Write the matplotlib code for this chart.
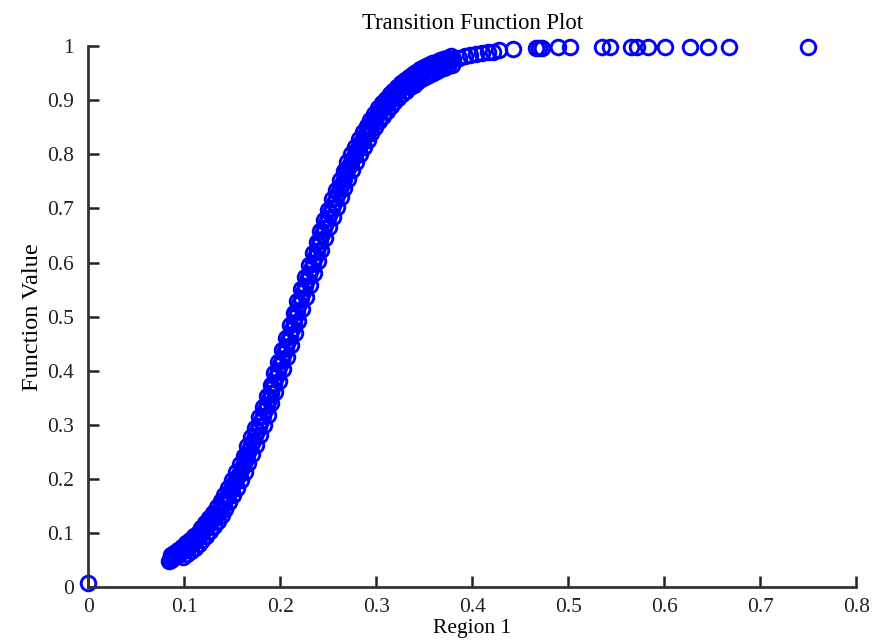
import numpy as np
import matplotlib
matplotlib.use('Agg')
import matplotlib.pyplot as plt

plt.rcParams['font.family'] = ['Liberation Serif', 'DejaVu Serif']

# centre line of the point cloud (region value, function value), plus the tail
region = [0.0,
          0.084, 0.088, 0.092, 0.096, 0.100, 0.104, 0.108, 0.112, 0.116, 0.120,
          0.124, 0.128, 0.132, 0.136, 0.140, 0.144, 0.148, 0.152, 0.156, 0.160,
          0.164, 0.168, 0.172, 0.176, 0.180, 0.184, 0.188, 0.192, 0.196, 0.200,
          0.204, 0.208, 0.212, 0.216, 0.220, 0.224, 0.228, 0.232, 0.236, 0.240,
          0.244, 0.248, 0.252, 0.256, 0.260, 0.264, 0.268, 0.272, 0.276, 0.280,
          0.284, 0.288, 0.292, 0.296, 0.300, 0.304, 0.308, 0.312, 0.316, 0.320,
          0.324, 0.328, 0.332, 0.336, 0.340, 0.344, 0.348, 0.352, 0.356, 0.360,
          0.364, 0.368, 0.372, 0.376, 0.380, 0.386, 0.392, 0.398, 0.404, 0.410,
          0.416, 0.422, 0.428, 0.443, 0.466, 0.470, 0.473, 0.489, 0.502,
          0.535, 0.544, 0.565, 0.572, 0.583, 0.601, 0.627, 0.646, 0.667, 0.750]
value = [0.008,
         0.049, 0.053, 0.058, 0.063, 0.069, 0.075, 0.081, 0.088, 0.095, 0.103,
         0.112, 0.121, 0.131, 0.142, 0.153, 0.165, 0.178, 0.192, 0.206, 0.221,
         0.237, 0.254, 0.271, 0.289, 0.308, 0.327, 0.348, 0.368, 0.389, 0.411,
         0.433, 0.455, 0.478, 0.500, 0.523, 0.545, 0.567, 0.589, 0.611, 0.632,
         0.653, 0.673, 0.692, 0.711, 0.729, 0.746, 0.763, 0.779, 0.794, 0.808,
         0.822, 0.835, 0.847, 0.858, 0.869, 0.879, 0.888, 0.897, 0.905, 0.912,
         0.919, 0.926, 0.932, 0.937, 0.942, 0.947, 0.951, 0.955, 0.959, 0.962,
         0.965, 0.968, 0.971, 0.973, 0.976, 0.979, 0.981, 0.984, 0.986, 0.988,
         0.989, 0.990, 0.992, 0.994, 0.997, 0.997, 0.997, 0.998, 0.998,
         0.999, 0.999, 0.999, 0.999, 0.999, 0.999, 0.999, 0.999, 0.999, 0.999]

# more points on the centre line, between the ones above
region_mid = [0.086, 0.090, 0.094, 0.098, 0.102, 0.106, 0.110, 0.114, 0.118, 0.122,
              0.126, 0.130, 0.134, 0.138, 0.142, 0.146, 0.150, 0.154, 0.158, 0.162,
              0.166, 0.170, 0.174, 0.178, 0.182, 0.186, 0.190, 0.194, 0.198, 0.202,
              0.206, 0.210, 0.214, 0.218, 0.222, 0.226, 0.230, 0.234, 0.238, 0.242,
              0.246, 0.250, 0.254, 0.258, 0.262, 0.266, 0.270, 0.274, 0.278, 0.282,
              0.286, 0.290, 0.294, 0.298, 0.302, 0.306, 0.310, 0.314, 0.318, 0.322,
              0.326, 0.330, 0.334, 0.338, 0.342, 0.346, 0.350, 0.354, 0.358, 0.362,
              0.366, 0.370, 0.374, 0.378]
value_mid = [0.051, 0.056, 0.060, 0.066, 0.072, 0.078, 0.085, 0.092, 0.099, 0.107,
             0.116, 0.126, 0.136, 0.147, 0.159, 0.171, 0.185, 0.199, 0.213, 0.229,
             0.245, 0.262, 0.280, 0.298, 0.317, 0.337, 0.358, 0.378, 0.400, 0.422,
             0.444, 0.466, 0.489, 0.511, 0.534, 0.556, 0.578, 0.600, 0.621, 0.642,
             0.663, 0.682, 0.701, 0.720, 0.737, 0.754, 0.771, 0.786, 0.801, 0.815,
             0.828, 0.841, 0.852, 0.863, 0.874, 0.883, 0.892, 0.901, 0.908, 0.915,
             0.922, 0.929, 0.934, 0.939, 0.944, 0.949, 0.953, 0.957, 0.960, 0.963,
             0.966, 0.969, 0.972, 0.974]

# points on the lower/right edge of the band
region_lo = [0.099, 0.103, 0.107, 0.111, 0.115, 0.119, 0.123, 0.127, 0.131, 0.135,
             0.139, 0.143, 0.147, 0.151, 0.155, 0.159, 0.163, 0.167, 0.171, 0.175,
             0.179, 0.183, 0.187, 0.191, 0.195, 0.199, 0.203, 0.207, 0.211, 0.215,
             0.219, 0.223, 0.227, 0.231, 0.235, 0.239, 0.243, 0.247, 0.251, 0.255,
             0.259, 0.263, 0.267, 0.271, 0.275, 0.279, 0.283, 0.287, 0.291, 0.295,
             0.299, 0.303, 0.307, 0.311, 0.315, 0.319, 0.323, 0.327, 0.331, 0.335,
             0.339, 0.343, 0.347, 0.351, 0.355, 0.359, 0.363, 0.367, 0.371, 0.375,
             0.379]
value_lo = [0.055, 0.061, 0.067, 0.073, 0.080, 0.087, 0.095, 0.104, 0.113, 0.123,
            0.134, 0.145, 0.157, 0.170, 0.184, 0.198, 0.213, 0.229, 0.246, 0.263,
            0.281, 0.300, 0.319, 0.340, 0.360, 0.381, 0.403, 0.425, 0.447, 0.470,
            0.492, 0.515, 0.537, 0.559, 0.581, 0.603, 0.624, 0.645, 0.665, 0.684,
            0.703, 0.721, 0.738, 0.755, 0.771, 0.786, 0.800, 0.814, 0.827, 0.839,
            0.850, 0.861, 0.871, 0.880, 0.889, 0.897, 0.904, 0.911, 0.918, 0.924,
            0.929, 0.934, 0.939, 0.943, 0.947, 0.951, 0.954, 0.957, 0.960, 0.963,
            0.965]

# points on the upper/left edge of the band
region_hi = [0.086, 0.090, 0.094, 0.098, 0.102, 0.106, 0.110, 0.114, 0.118, 0.122,
             0.126, 0.130, 0.134, 0.138, 0.142, 0.146, 0.150, 0.154, 0.158, 0.162,
             0.166, 0.170, 0.174, 0.178, 0.182, 0.186, 0.190, 0.194, 0.198, 0.202,
             0.206, 0.210, 0.214, 0.218, 0.222, 0.226, 0.230, 0.234, 0.238, 0.242,
             0.246, 0.250, 0.254, 0.258, 0.262, 0.266, 0.270, 0.274, 0.278, 0.282,
             0.286, 0.290, 0.294, 0.298, 0.302, 0.306, 0.310, 0.314, 0.318, 0.322,
             0.326, 0.330, 0.334, 0.338, 0.342, 0.346, 0.350, 0.354, 0.358, 0.362,
             0.366, 0.370, 0.374, 0.378]
value_hi = [0.059, 0.064, 0.069, 0.075, 0.081, 0.087, 0.094, 0.101, 0.109, 0.118,
            0.127, 0.137, 0.148, 0.159, 0.171, 0.184, 0.198, 0.212, 0.227, 0.243,
            0.260, 0.277, 0.295, 0.314, 0.333, 0.354, 0.374, 0.395, 0.417, 0.439,
            0.461, 0.484, 0.506, 0.529, 0.551, 0.573, 0.595, 0.617, 0.638, 0.659,
            0.679, 0.698, 0.717, 0.735, 0.752, 0.769, 0.785, 0.800, 0.814, 0.828,
            0.841, 0.853, 0.864, 0.875, 0.885, 0.894, 0.903, 0.911, 0.918, 0.925,
            0.932, 0.938, 0.943, 0.948, 0.953, 0.957, 0.961, 0.965, 0.968, 0.971,
            0.974, 0.977, 0.979, 0.982]

fig = plt.figure(figsize=(8.72, 6.41), dpi=100)
ax = fig.add_axes([0.101, 0.084, 0.881, 0.844])

all_x = region_lo + region_hi + region_mid + region
all_y = value_lo + value_hi + value_mid + value
ax.plot(all_x, all_y, 'o', mfc='none', mec=(0, 0, 1), ms=10.5, mew=2.1, clip_on=False)

ax.set_xlim(0, 0.8)
ax.set_ylim(0, 1)
ax.set_xticks(np.arange(0, 0.81, 0.1))
ax.set_yticks(np.arange(0, 1.01, 0.1))
ax.set_xticklabels(['0', '0.1', '0.2', '0.3', '0.4', '0.5', '0.6', '0.7', '0.8'])
ax.set_yticklabels(['0', '0.1', '0.2', '0.3', '0.4', '0.5', '0.6', '0.7', '0.8', '0.9', '1'])
ax.tick_params(direction='in', length=8, width=1.8, labelsize=15.5, colors='#222222')
ax.tick_params(axis='x', pad=8)
ax.tick_params(axis='y', pad=10)
for s in ['top', 'right']:
    ax.spines[s].set_visible(False)
for s in ['left', 'bottom']:
    ax.spines[s].set_linewidth(2)
    ax.spines[s].set_color('#333333')

ax.set_title('Transition Function Plot', fontsize=16.3, pad=12)
ax.set_xlabel('Region 1', fontsize=15.5, labelpad=1)
ax.set_ylabel('Function Value', fontsize=17.5, labelpad=3)

fig.savefig('out.png', dpi=100)
